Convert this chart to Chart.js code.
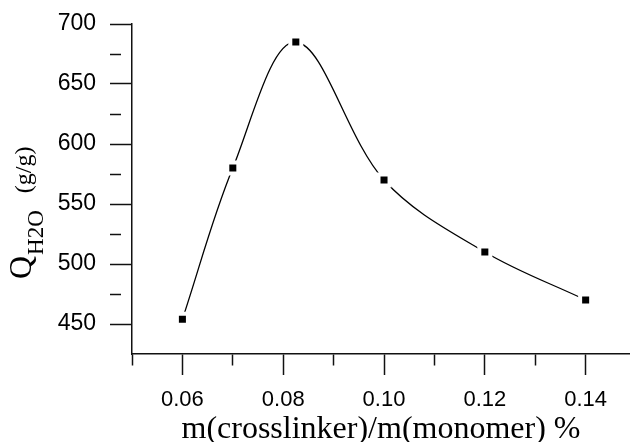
<!DOCTYPE html>
<html>
<head>
<meta charset="utf-8">
<script src="https://cdn.jsdelivr.net/npm/chart.js@4.4.1/dist/chart.umd.min.js"></script>
<style>
  html, body { margin: 0; padding: 0; background: #fff; }
  #wrap { width: 630px; height: 442px; }
</style>
</head>
<body>
<div id="wrap"><canvas id="grafico-q" width="630" height="442"></canvas></div>
<script>
// valores
var crosslinker = [0.06, 0.07, 0.0825, 0.10, 0.12, 0.14];
var qH2O = [454, 580, 685, 570, 510, 470];

var xMajorTicks = [0.06, 0.08, 0.10, 0.12, 0.14];
var xMinorTicks = [0.05, 0.07, 0.09, 0.11, 0.13];
var yMajorTicks = [450, 500, 550, 600, 650, 700];
var yMinorTicks = [475, 525, 575, 625, 675];

function contem(lista, v) {
    return lista.some(function(t) { return Math.abs(t - v) < 1e-9; });
}

function ticksDe(major, minor) {
    return major.concat(minor).sort(function(a, b) { return a - b; })
        .map(function(v) { return { value: v }; });
}

var pontos = crosslinker.map(function(x, i) { return { x: x, y: qH2O[i] }; });

// titulo do eixo y com subscrito
var tituloY = {
    id: 'tituloY',
    afterDraw: function(chart) {
        var ctx = chart.ctx;
        ctx.save();
        ctx.translate(31, 279);
        ctx.rotate(-Math.PI / 2);
        ctx.fillStyle = '#000';
        ctx.textAlign = 'left';
        ctx.textBaseline = 'alphabetic';
        ctx.font = '32px "Liberation Serif"';
        ctx.fillText('Q', 0, 0);
        var x = ctx.measureText('Q').width + 1;
        ctx.font = '23px "Liberation Serif"';
        ctx.fillText('H2O', x, 12);
        x += ctx.measureText('H2O').width + 17;
        ctx.font = '24px "Liberation Serif"';
        ctx.fillText('(g/g)', x, 0);
        ctx.restore();
    }
};

var corEixo = '#111';

new Chart(document.getElementById('grafico-q').getContext('2d'), {
    type: 'line',
    data: {
        datasets: [
            {
                label: 'pontos',
                data: pontos,
                showLine: false,
                pointStyle: 'rect',
                pointRadius: 7.8,
                pointBackgroundColor: '#000',
                pointBorderColor: '#fff',
                pointBorderWidth: 4
            },
            {
                label: 'curva',
                data: pontos,
                borderColor: '#000',
                borderWidth: 1.3,
                tension: 0.35,
                pointRadius: 0,
                fill: false
            }
        ]
    },
    options: {
        responsive: false,
        animation: false,
        layout: { autoPadding: false, padding: { top: 24, right: 0, left: 0, bottom: 0 } },
        plugins: { legend: { display: false }, tooltip: { enabled: false } },
        scales: {
            x: {
                type: 'linear',
                min: 0.05,
                max: 0.1488,
                afterBuildTicks: function(scale) { scale.ticks = ticksDe(xMajorTicks, xMinorTicks); },
                afterFit: function(scale) { scale.height = 88; scale.paddingLeft = 0; scale.paddingRight = 0; },
                border: { color: corEixo, width: 1.5 },
                grid: {
                    drawOnChartArea: false,
                    tickLength: 21,
                    tickWidth: 1.5,
                    tickColor: corEixo,
                    tickBorderDash: function(c) { return c.tick && contem(xMinorTicks, c.tick.value) ? [11, 60] : []; }
                },
                ticks: {
                    padding: 12,
                    color: '#000',
                    font: { family: '"Liberation Sans"', size: 22 },
                    callback: function(v) { return contem(xMajorTicks, v) ? v.toFixed(2) : ''; }
                },
                title: {
                    display: true,
                    text: 'm(crosslinker)/m(monomer) %',
                    color: '#000',
                    font: { family: '"Liberation Serif"', size: 32, lineHeight: 1 },
                    padding: { top: 0, bottom: -4 }
                }
            },
            y: {
                min: 425,
                max: 700,
                afterBuildTicks: function(scale) { scale.ticks = ticksDe(yMajorTicks, yMinorTicks); },
                afterFit: function(scale) { scale.width = 132; scale.paddingTop = 0; scale.paddingBottom = 0; },
                border: { color: corEixo, width: 1.5 },
                grid: {
                    drawOnChartArea: false,
                    tickLength: 22,
                    tickWidth: 1.5,
                    tickColor: corEixo,
                    tickBorderDash: function(c) { return c.tick && contem(yMinorTicks, c.tick.value) ? [11, 60] : []; }
                },
                ticks: {
                    padding: 14,
                    color: '#000',
                    font: { family: '"Liberation Sans"', size: 23 },
                    callback: function(v) { return contem(yMajorTicks, v) ? String(v) : ''; }
                }
            }
        }
    },
    plugins: [tituloY]
});
</script>
</body>
</html>
